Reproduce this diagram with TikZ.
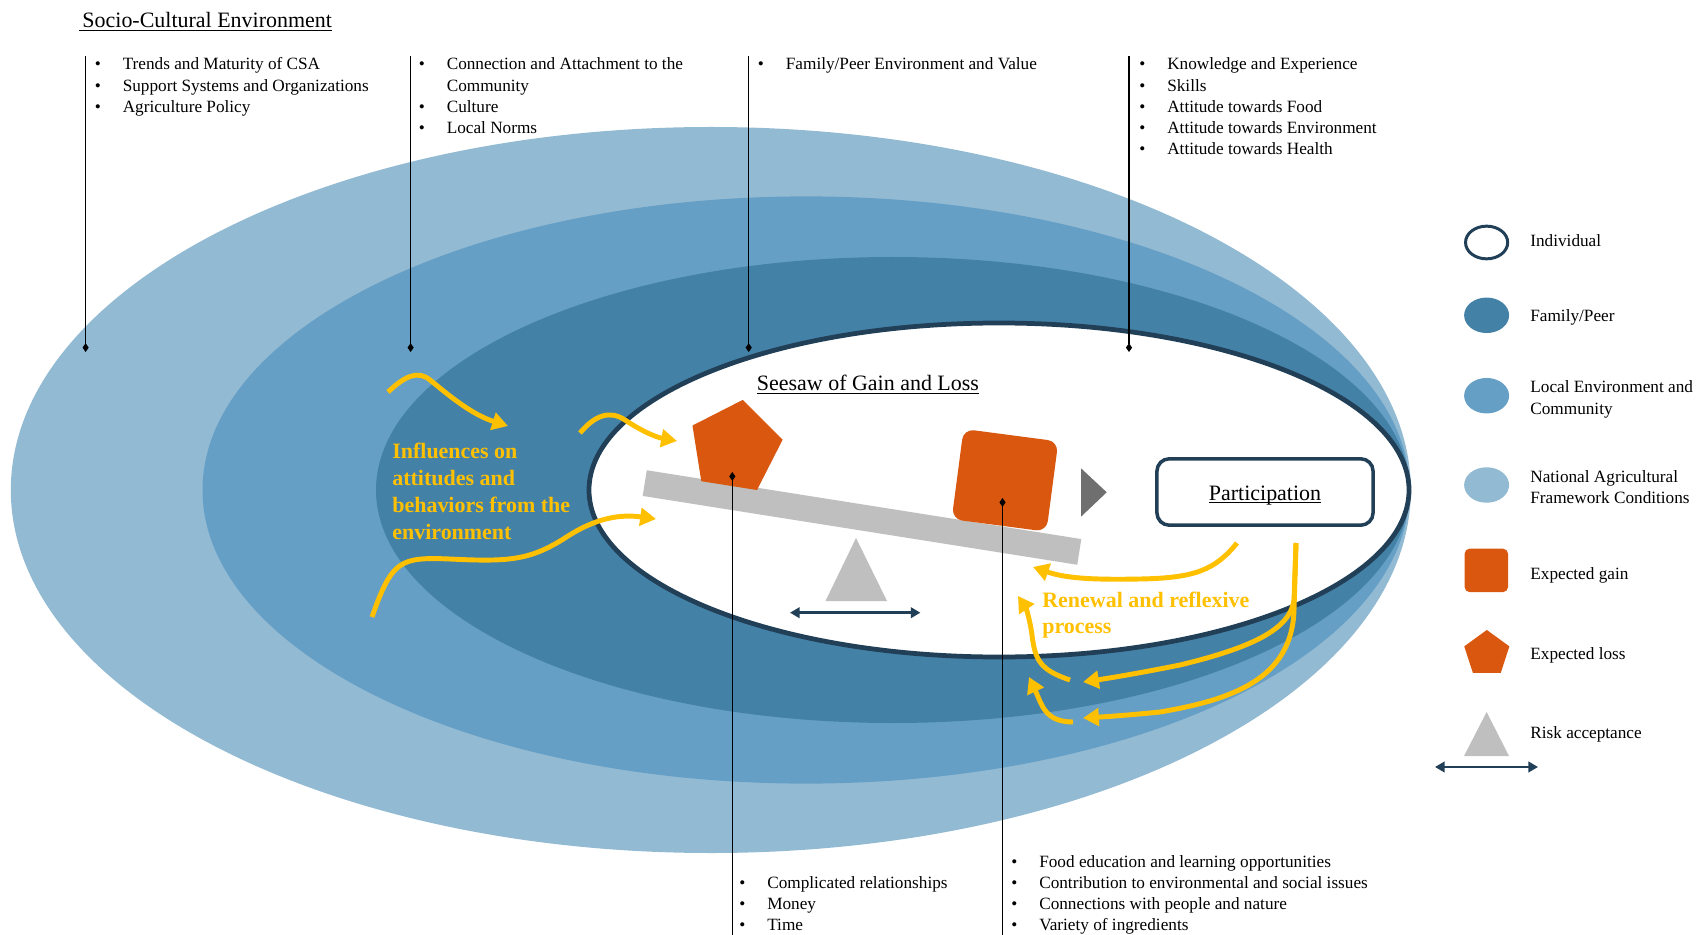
\documentclass[tikz,border=0pt]{standalone}
\usepackage{fontspec}
\setmainfont{Liberation Serif}
\usepackage{tikz}
\usetikzlibrary{shapes.geometric,arrows.meta}

\definecolor{natl}{HTML}{93BAD3}
\definecolor{local}{HTML}{659FC5}
\definecolor{fampeer}{HTML}{4481A7}
\definecolor{rim}{HTML}{213F56}
\definecolor{gainc}{HTML}{D9570E}
\definecolor{flow}{HTML}{FFC000}
\definecolor{plankc}{HTML}{BFBFBF}
\definecolor{pointer}{HTML}{6F6F6F}

\tikzset{listtext/.style={anchor=base west, inner sep=0pt, font=\fontsize{9.8}{12.0}\selectfont}}
\tikzset{legtext/.style={anchor=base west, inner sep=0pt, font=\fontsize{9.8}{12.1}\selectfont}}
\tikzset{flowtext/.style={anchor=base west, inner sep=0pt, text=flow, font=\bfseries\fontsize{12.5}{15.2}\selectfont}}
\tikzset{heading/.style={anchor=base west, inner sep=0pt, font=\fontsize{12.5}{15}\selectfont}}
\tikzset{pinline/.style={black, line width=0.6pt, -{Diamond[length=5pt,width=3.5pt]}}}
\tikzset{flowarrow/.style={flow, line width=2.8pt, -{Triangle[length=9pt,width=10pt]}}}
\tikzset{spanarrow/.style={rim, line width=1.5pt, {Triangle[length=5.5pt,width=6pt]}-{Triangle[length=5.5pt,width=6pt]}}}
\tikzset{gainbox/.style={fill=gainc, rounded corners=6pt, inner sep=0pt}}
\tikzset{lossbox/.style={fill=gainc, regular polygon, regular polygon sides=5, inner sep=0pt}}
\tikzset{layer/.style={ellipse, inner sep=0pt, minimum width=25.6pt, minimum height=20.2pt}}

\newcommand{\itm}[1]{\makebox[15.9pt][l]{\textbullet}#1}
\newcommand{\cnt}[1]{\hspace*{15.9pt}#1}
\newcommand{\ulr}[1]{\underline{\smash{#1}}}
\newcommand{\rows}[1]{\begin{tabular}[t]{@{}l@{}}#1\end{tabular}}

\begin{document}
\begin{tikzpicture}[x=0.02cm, y=-0.02cm]
    \useasboundingbox (0,0) rectangle (1699,935);

    \fill[natl] (710.8,490) ellipse [x radius=700, y radius=363];
    \fill[local] (806,490) ellipse [x radius=603.5, y radius=293.6];
    \fill[fampeer] (892.8,490) ellipse [x radius=516.8, y radius=233];
    \filldraw[fill=white, draw=rim, line width=2.7pt] (999,490) ellipse [x radius=410, y radius=167];

    \draw[flowarrow] (388,392) .. controls (405,376) and (418,370) .. (430,380) .. controls (445,392) and (470,414) .. (508,426);
    \draw[flowarrow] (580,433) .. controls (595,415) and (610,410) .. (625,420) .. controls (640,430) and (655,437) .. (677,441);
    \draw[flowarrow] (372,617) .. controls (392,560) and (400,557) .. (450,559) .. controls (510,562) and (530,560) .. (565,538) .. controls (595,518) and (620,514) .. (656,519);

    \node[fill=plankc, minimum width=250.4pt, minimum height=14.8pt, inner sep=0pt, rotate=-9] at (862,517.5) (plank) {};
    \fill[plankc] (856,538) -- (887,601) -- (825.5,601) -- cycle;
    \coordinate (swingL) at (790,612.7);
    \coordinate (swingR) at (920.4,612.7);
    \draw[spanarrow] (swingL) -- (swingR);

    \node[lossbox, minimum size=54.6pt, rotate=-9] at (735.2,447.3) (loss) {};
    \node[gainbox, minimum width=54.4pt, minimum height=51.8pt, rotate=-7.5] at (1005,480.3) (gain) {};
    \fill[pointer] (1081,468.3) -- (1106.7,492.3) -- (1081,516.7) -- cycle;

    \node[draw=rim, line width=2pt, fill=white, rounded corners=7pt, minimum width=123pt, minimum height=37.8pt,
          text height=9.5pt, text depth=0pt, font=\fontsize{12.5}{15}\selectfont] at (1265,492) (part) {\ulr{Participation}};

    \draw[flowarrow] (1237,543) .. controls (1215,570) and (1195,578) .. (1140,579) .. controls (1090,580) and (1065,578) .. (1033,567);
    \draw[flowarrow] (1296,543) -- (1294,600) .. controls (1290,630) and (1250,648) .. (1180,665) .. controls (1140,673) and (1110,678) .. (1083,682);
    \draw[flowarrow] (1296,543) -- (1294,610) .. controls (1292,680) and (1230,700) .. (1160,712) .. controls (1120,716) and (1100,717) .. (1083,718);
    \draw[flowarrow] (1070,680) .. controls (1040,670) and (1035,660) .. (1032,635) .. controls (1030,620) and (1026,608) .. (1018,596);
    \draw[flowarrow] (1073,722) .. controls (1045,722) and (1042,705) .. (1029,677);

    \node[heading] at (78.6,27.5) (socio) {\ulr{\hspace{2pt}Socio-Cultural Environment}};
    \node[heading] at (756.6,390.7) (seesaw) {\ulr{Seesaw of Gain and Loss}};
    \node[flowtext] at (392,459) (influence) {\rows{Influences on\\attitudes and\\behaviors from the\\environment}};
    \node[flowtext, font=\bfseries\fontsize{12.5}{14.8}\selectfont] at (1042,607.5) (renewal) {\rows{Renewal and reflexive\\process}};

    \node[listtext] at (94.5,70) (natlist) {\rows{\itm{Trends and Maturity of CSA}\\\itm{Support Systems and Organizations}\\\itm{Agriculture Policy}}};
    \node[listtext] at (418.5,70) (loclist) {\rows{\itm{Connection and Attachment to the}\\\cnt{Community}\\\itm{Culture}\\\itm{Local Norms}}};
    \node[listtext] at (757.6,70) (famlist) {\rows{\itm{Family/Peer Environment and Value}}};
    \node[listtext] at (1139,70) (indlist) {\rows{\itm{Knowledge and Experience}\\\itm{Skills}\\\itm{Attitude towards Food}\\\itm{Attitude towards Environment}\\\itm{Attitude towards Health}}};
    \node[listtext] at (739,888.5) (losslist) {\rows{\itm{Complicated relationships}\\\itm{Money}\\\itm{Time}}};
    \node[listtext] at (1011,867.5) (gainlist) {\rows{\itm{Food education and learning opportunities}\\\itm{Contribution to environmental and social issues}\\\itm{Connections with people and nature}\\\itm{Variety of ingredients}}};

    \coordinate (natlink) at (85.6,56);
    \coordinate (natpin) at (85.6,352);
    \coordinate (loclink) at (410.6,56);
    \coordinate (locpin) at (410.6,352);
    \coordinate (famlink) at (748.7,56);
    \coordinate (fampin) at (748.7,352);
    \coordinate (indlink) at (1129,56);
    \coordinate (indpin) at (1129,352);
    \coordinate (losslink) at (732.3,935);
    \coordinate (losspin) at (732.3,472);
    \coordinate (gainlink) at (1002.5,935);
    \coordinate (gainpin) at (1002.5,498);
    \draw[pinline] (natlink) -- (natpin);
    \draw[pinline] (loclink) -- (locpin);
    \draw[pinline] (famlink) -- (fampin);
    \draw[pinline] (indlink) -- (indpin);
    \draw[pinline] (losslink) -- (losspin);
    \draw[pinline] (gainlink) -- (gainpin);

    \node[layer, draw=rim, line width=1.7pt, fill=white, minimum width=24pt, minimum height=18.6pt] at (1486.6,242.5) (legind) {};
    \node[layer, fill=fampeer] at (1486.6,315.3) (legfam) {};
    \node[layer, fill=local] at (1486.6,395.7) (legloc) {};
    \node[layer, fill=natl] at (1486.6,485) (legnat) {};
    \node[gainbox, rounded corners=3pt, minimum size=24.8pt] at (1486.3,570.4) (leggain) {};
    \node[lossbox, minimum size=27pt] at (1486.8,653.7) (legloss) {};
    \fill[plankc] (1486.6,712) -- (1509,756) -- (1464,756) -- cycle;
    \coordinate (legswingL) at (1435,767);
    \coordinate (legswingR) at (1538,767);
    \draw[spanarrow] (legswingL) -- (legswingR);

    \node[legtext] at (1530,246.5) (tind) {Individual};
    \node[legtext] at (1530,322) (tfam) {Family/Peer};
    \node[legtext] at (1530,393) (tloc) {\rows{Local Environment and\\Community}};
    \node[legtext] at (1530,482) (tnat) {\rows{National Agricultural\\Framework Conditions}};
    \node[legtext] at (1530,579) (tgain) {Expected gain};
    \node[legtext] at (1530,659) (tloss) {Expected loss};
    \node[legtext] at (1530,738) (trisk) {Risk acceptance};
\end{tikzpicture}
\end{document}
